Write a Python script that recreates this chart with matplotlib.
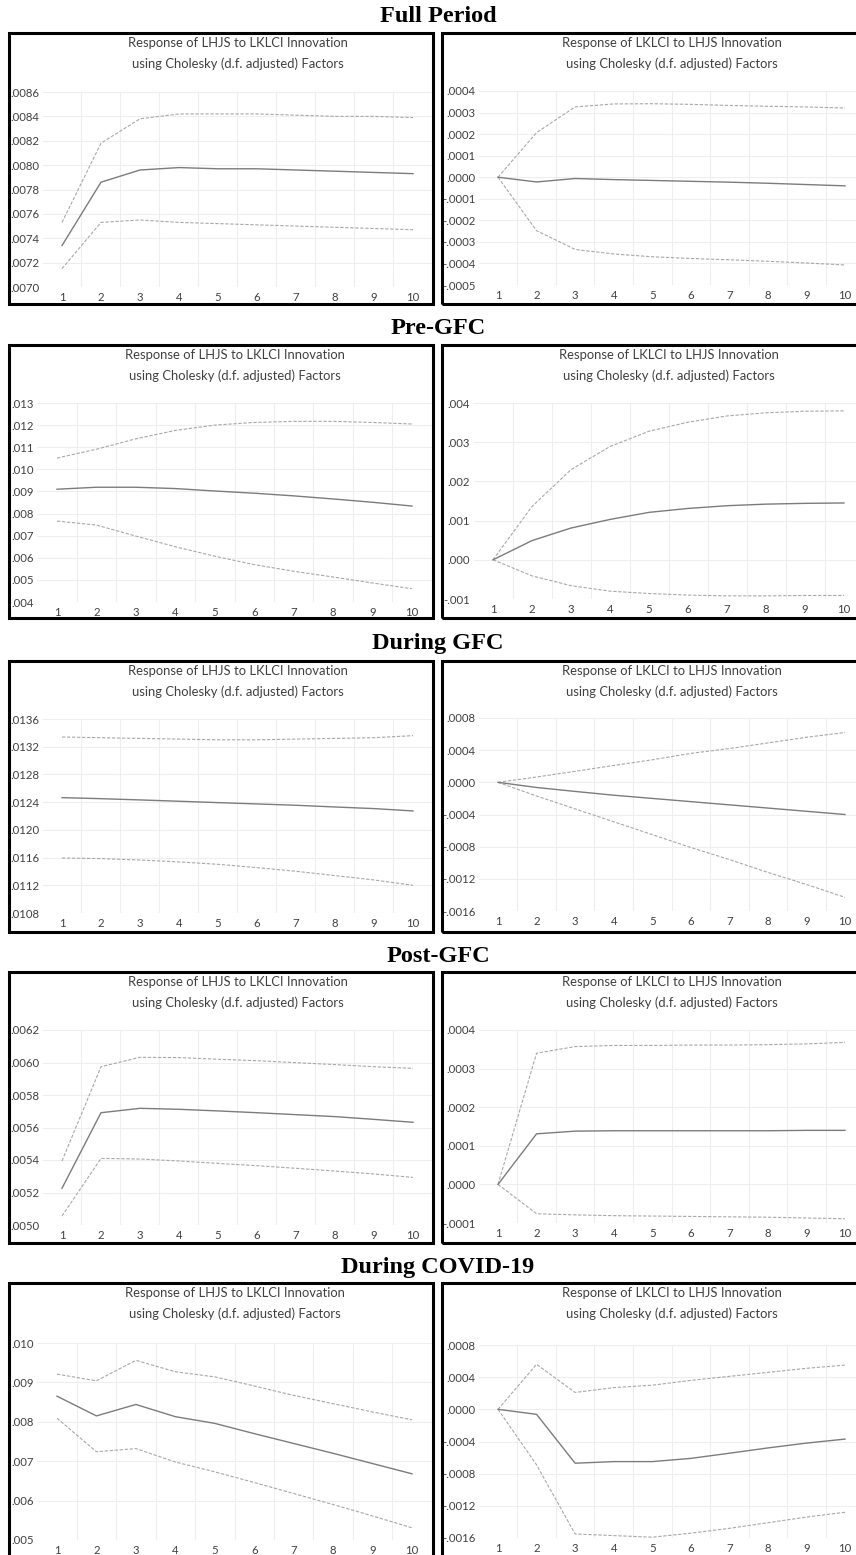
import matplotlib
matplotlib.use("Agg")
import matplotlib.pyplot as plt
from matplotlib.patches import Rectangle
from matplotlib.ticker import FixedLocator, FuncFormatter

# ---------------- data ----------------
periods = [1, 2, 3, 4, 5, 6, 7, 8, 9, 10]
section_titles = ["Full Period", "Pre-GFC", "During GFC", "Post-GFC", "During COVID-19"]
title_left = ["Response of LHJS to LKLCI Innovation", "using Cholesky (d.f. adjusted) Factors"]
title_right = ["Response of LKLCI to LHJS Innovation", "using Cholesky (d.f. adjusted) Factors"]

# Full period
full_l_mean = [0.00734, 0.00786, 0.00796, 0.00798, 0.00797, 0.00797, 0.00796, 0.00795, 0.00794, 0.00793]
full_l_up = [0.00753, 0.00818, 0.00838, 0.00842, 0.00842, 0.00842, 0.00841, 0.00840, 0.00840, 0.00839]
full_l_lo = [0.00715, 0.00753, 0.00755, 0.00753, 0.00752, 0.00751, 0.00750, 0.00749, 0.00748, 0.00747]
full_r_mean = [0.0, -0.000022, -0.000006, -0.000011, -0.000015, -0.000019, -0.000023, -0.000028, -0.000034, -0.000040]
full_r_up = [0.0, 0.000207, 0.000326, 0.000340, 0.000341, 0.000338, 0.000333, 0.000329, 0.000326, 0.000321]
full_r_lo = [0.0, -0.000248, -0.000335, -0.000356, -0.000369, -0.000377, -0.000383, -0.000390, -0.000398, -0.000407]

# Pre-GFC
pre_l_mean = [0.00910, 0.00919, 0.00919, 0.00913, 0.00902, 0.00892, 0.00880, 0.00866, 0.00851, 0.00834]
pre_l_up = [0.01051, 0.01091, 0.01138, 0.01176, 0.01200, 0.01212, 0.01217, 0.01217, 0.01212, 0.01205]
pre_l_lo = [0.00766, 0.00748, 0.00698, 0.00650, 0.00607, 0.00569, 0.00539, 0.00513, 0.00486, 0.00460]
pre_r_mean = [0.0, 0.00049, 0.00081, 0.00103, 0.00121, 0.00131, 0.00138, 0.00142, 0.00144, 0.00145]
pre_r_up = [0.0, 0.00136, 0.00230, 0.00289, 0.00328, 0.00351, 0.00367, 0.00375, 0.00379, 0.00380]
pre_r_lo = [0.0, -0.00041, -0.00066, -0.00080, -0.00086, -0.00090, -0.00092, -0.00092, -0.00091, -0.00091]

# During GFC
gfc_l_mean = [0.012465, 0.01245, 0.012432, 0.012413, 0.012393, 0.012374, 0.012355, 0.01233, 0.012307, 0.012273]
gfc_l_up = [0.01334, 0.01333, 0.01332, 0.01331, 0.01330, 0.01330, 0.01331, 0.01332, 0.01333, 0.01336]
gfc_l_lo = [0.011594, 0.011585, 0.011565, 0.011537, 0.011503, 0.011455, 0.011402, 0.01134, 0.011277, 0.0112]
gfc_r_mean = [0.0, -0.000064, -0.000113, -0.00016, -0.00020, -0.00024, -0.00028, -0.00032, -0.00036, -0.00040]
gfc_r_up = [0.0, 0.000066, 0.000137, 0.00021, 0.00028, 0.00036, 0.00042, 0.00049, 0.00056, 0.00062]
gfc_r_lo = [0.0, -0.00017, -0.00033, -0.00049, -0.00065, -0.00081, -0.00096, -0.00112, -0.00127, -0.00143]

# Post-GFC
post_l_mean = [0.005226, 0.005691, 0.005718, 0.005712, 0.005702, 0.005691, 0.005679, 0.005667, 0.00565, 0.005632]
post_l_up = [0.005394, 0.005974, 0.006032, 0.00603, 0.00602, 0.006011, 0.005999, 0.005987, 0.005974, 0.005964]
post_l_lo = [0.005055, 0.00541, 0.005406, 0.005394, 0.005379, 0.005365, 0.005349, 0.005332, 0.005314, 0.005293]
post_r_mean = [0.0, 0.000131, 0.000138, 0.000139, 0.000139, 0.000139, 0.000139, 0.000139, 0.000140, 0.000140]
post_r_up = [0.0, 0.000340, 0.000357, 0.000360, 0.000360, 0.000361, 0.000361, 0.000362, 0.000364, 0.000368]
post_r_lo = [0.0, -0.000076, -0.000079, -0.000081, -0.000082, -0.000083, -0.000084, -0.000085, -0.000087, -0.000089]

# During COVID-19
cov_l_mean = [0.00865, 0.00815, 0.00844, 0.00813, 0.00796, 0.00770, 0.00745, 0.00720, 0.00694, 0.00668]
cov_l_up = [0.00921, 0.00904, 0.00956, 0.00927, 0.00914, 0.00891, 0.00867, 0.00846, 0.00825, 0.00805]
cov_l_lo = [0.00809, 0.00724, 0.00732, 0.00698, 0.00673, 0.00646, 0.00618, 0.00590, 0.00561, 0.00531]
cov_r_mean = [0.0, -0.000062, -0.00067, -0.00065, -0.00065, -0.00061, -0.000546, -0.00048, -0.00042, -0.00037]
cov_r_up = [0.0, 0.00056, 0.00021, 0.00027, 0.00030, 0.00036, 0.00041, 0.00046, 0.00051, 0.00055]
cov_r_lo = [0.0, -0.00069, -0.00155, -0.00157, -0.00159, -0.00154, -0.00148, -0.00141, -0.00134, -0.00128]

# y tick values per panel
full_l_ticks = [0.0070, 0.0072, 0.0074, 0.0076, 0.0078, 0.0080, 0.0082, 0.0084, 0.0086]
full_r_ticks = [-0.0005, -0.0004, -0.0003, -0.0002, -0.0001, 0.0, 0.0001, 0.0002, 0.0003, 0.0004]
pre_l_ticks = [0.004, 0.005, 0.006, 0.007, 0.008, 0.009, 0.010, 0.011, 0.012, 0.013]
pre_r_ticks = [-0.001, 0.000, 0.001, 0.002, 0.003, 0.004]
gfc_l_ticks = [0.0108, 0.0112, 0.0116, 0.0120, 0.0124, 0.0128, 0.0132, 0.0136]
gfc_r_ticks = [-0.0016, -0.0012, -0.0008, -0.0004, 0.0, 0.0004, 0.0008]
post_l_ticks = [0.0050, 0.0052, 0.0054, 0.0056, 0.0058, 0.0060, 0.0062]
post_r_ticks = [-0.0001, 0.0, 0.0001, 0.0002, 0.0003, 0.0004]
cov_l_ticks = [0.005, 0.006, 0.007, 0.008, 0.009, 0.010]
cov_r_ticks = [-0.0016, -0.0012, -0.0008, -0.0004, 0.0, 0.0004, 0.0008]

# ---------------- layout (pixels) ----------------
W, H = 856, 1555
fig = plt.figure(figsize=(W / 100, H / 100), dpi=100)
fig.patch.set_facecolor("white")


def fx(p):
    return p / W


def fy(p):
    return 1 - p / H


BODY_FONT = ["Lato", "DejaVu Sans"]
TEXT_COL = "#404040"
MEAN_COL = "#7c7c7c"
BAND_COL = "#a8a8a8"
GRID_COL = "#eeeeee"


def fmt_factory(dec):
    def f(v, pos):
        s = f"{v:.{dec}f}"
        if s.startswith("-0"):
            s = "-" + s[2:]
        elif s.startswith("0"):
            s = s[1:]
        if s == "-." + "0" * dec:
            s = "." + "0" * dec
        return s
    return f


def panel(box, p1, p10, ytop_px, ybot_px, ticks, dec, titles, mean, up, lo):
    bx0, by0, bx1, by1 = box
    fig.patches.append(Rectangle((fx(bx0), fy(by1)), fx(bx1 - bx0), (by1 - by0) / H,
                                 transform=fig.transFigure, fill=False,
                                 edgecolor="black", linewidth=2.2, zorder=10))
    s = (p10 - p1) / 9.0
    left_px = p1 - 0.5 * s
    full_right = p10 + 0.5 * s
    right_px = min(full_right, bx1 - 1)
    xmax = 1 + (right_px - p1) / s
    ax = fig.add_axes([fx(left_px), fy(ybot_px), fx(right_px - left_px), (ybot_px - ytop_px) / H])
    ax.set_facecolor("none")
    ax.plot(periods, up, color=BAND_COL, lw=0.8, ls=(0, (3, 1.5)))
    ax.plot(periods, lo, color=BAND_COL, lw=0.8, ls=(0, (3, 1.5)))
    ax.plot(periods, mean, color=MEAN_COL, lw=1.0)
    ax.set_xlim(0.5, xmax)
    ax.set_ylim(ticks[0], ticks[-1])
    for sp in ax.spines.values():
        sp.set_visible(False)
    ax.yaxis.set_major_locator(FixedLocator(ticks))
    ax.yaxis.set_major_formatter(FuncFormatter(fmt_factory(dec)))
    ax.xaxis.set_major_locator(FixedLocator(periods))
    ax.xaxis.set_minor_locator(FixedLocator([k + 0.5 for k in range(1, 10)]))
    ax.grid(True, axis="y", which="major", color=GRID_COL, lw=0.8)
    ax.grid(True, axis="x", which="minor", color=GRID_COL, lw=0.8)
    ax.tick_params(axis="both", which="both", length=0, labelcolor=TEXT_COL, labelsize=8.2)
    ax.tick_params(axis="y", pad=2.5)
    ax.tick_params(axis="x", pad=3.5)
    for lab in ax.get_xticklabels() + ax.get_yticklabels():
        lab.set_family(BODY_FONT)
    ax.set_axisbelow(True)
    cx = (left_px + full_right) / 2
    fig.text(fx(cx), fy(by0 + 10), titles[0], ha="center", va="center",
             fontsize=9.4, color=TEXT_COL, family=BODY_FONT)
    fig.text(fx(cx), fy(by0 + 31), titles[1], ha="center", va="center",
             fontsize=9.4, color=TEXT_COL, family=BODY_FONT)
    return ax


LB = (9, 0, 433, 0)
RB = (442, 0, 858, 0)

rows = [
    dict(ty=16, top=33, bot=304,
         L=dict(p1=62, p10=413, yt=92, yb=287, ticks=full_l_ticks, dec=4, m=full_l_mean, u=full_l_up, l=full_l_lo),
         R=dict(p1=498, p10=845, yt=91, yb=285, ticks=full_r_ticks, dec=4, m=full_r_mean, u=full_r_up, l=full_r_lo)),
    dict(ty=328, top=345, bot=618,
         L=dict(p1=57, p10=412, yt=403, yb=602, ticks=pre_l_ticks, dec=3, m=pre_l_mean, u=pre_l_up, l=pre_l_lo),
         R=dict(p1=493, p10=844, yt=403, yb=599, ticks=pre_r_ticks, dec=3, m=pre_r_mean, u=pre_r_up, l=pre_r_lo)),
    dict(ty=644, top=661, bot=932,
         L=dict(p1=62, p10=413, yt=719, yb=913, ticks=gfc_l_ticks, dec=4, m=gfc_l_mean, u=gfc_l_up, l=gfc_l_lo),
         R=dict(p1=498, p10=845, yt=718, yb=911, ticks=gfc_r_ticks, dec=4, m=gfc_r_mean, u=gfc_r_up, l=gfc_r_lo)),
    dict(ty=956, top=972, bot=1243,
         L=dict(p1=62, p10=413, yt=1030, yb=1225, ticks=post_l_ticks, dec=4, m=post_l_mean, u=post_l_up, l=post_l_lo),
         R=dict(p1=498, p10=845, yt=1030, yb=1223, ticks=post_r_ticks, dec=4, m=post_r_mean, u=post_r_up, l=post_r_lo)),
    dict(ty=1267, top=1283, bot=1562,
         L=dict(p1=57, p10=412, yt=1343, yb=1540, ticks=cov_l_ticks, dec=3, m=cov_l_mean, u=cov_l_up, l=cov_l_lo),
         R=dict(p1=498, p10=845, yt=1345, yb=1538, ticks=cov_r_ticks, dec=4, m=cov_r_mean, u=cov_r_up, l=cov_r_lo)),
]

for title, r in zip(section_titles, rows):
    fig.text(fx(438), fy(r["ty"]), title, ha="center", va="center",
             fontsize=17.5, fontweight="bold", family=["Liberation Serif", "DejaVu Serif"], color="black")
    for side, B, tt in (("L", LB, title_left), ("R", RB, title_right)):
        d = r[side]
        panel((B[0], r["top"], B[2], r["bot"]), d["p1"], d["p10"], d["yt"], d["yb"],
              d["ticks"], d["dec"], tt, d["m"], d["u"], d["l"])

fig.savefig("out.png", dpi=100)
